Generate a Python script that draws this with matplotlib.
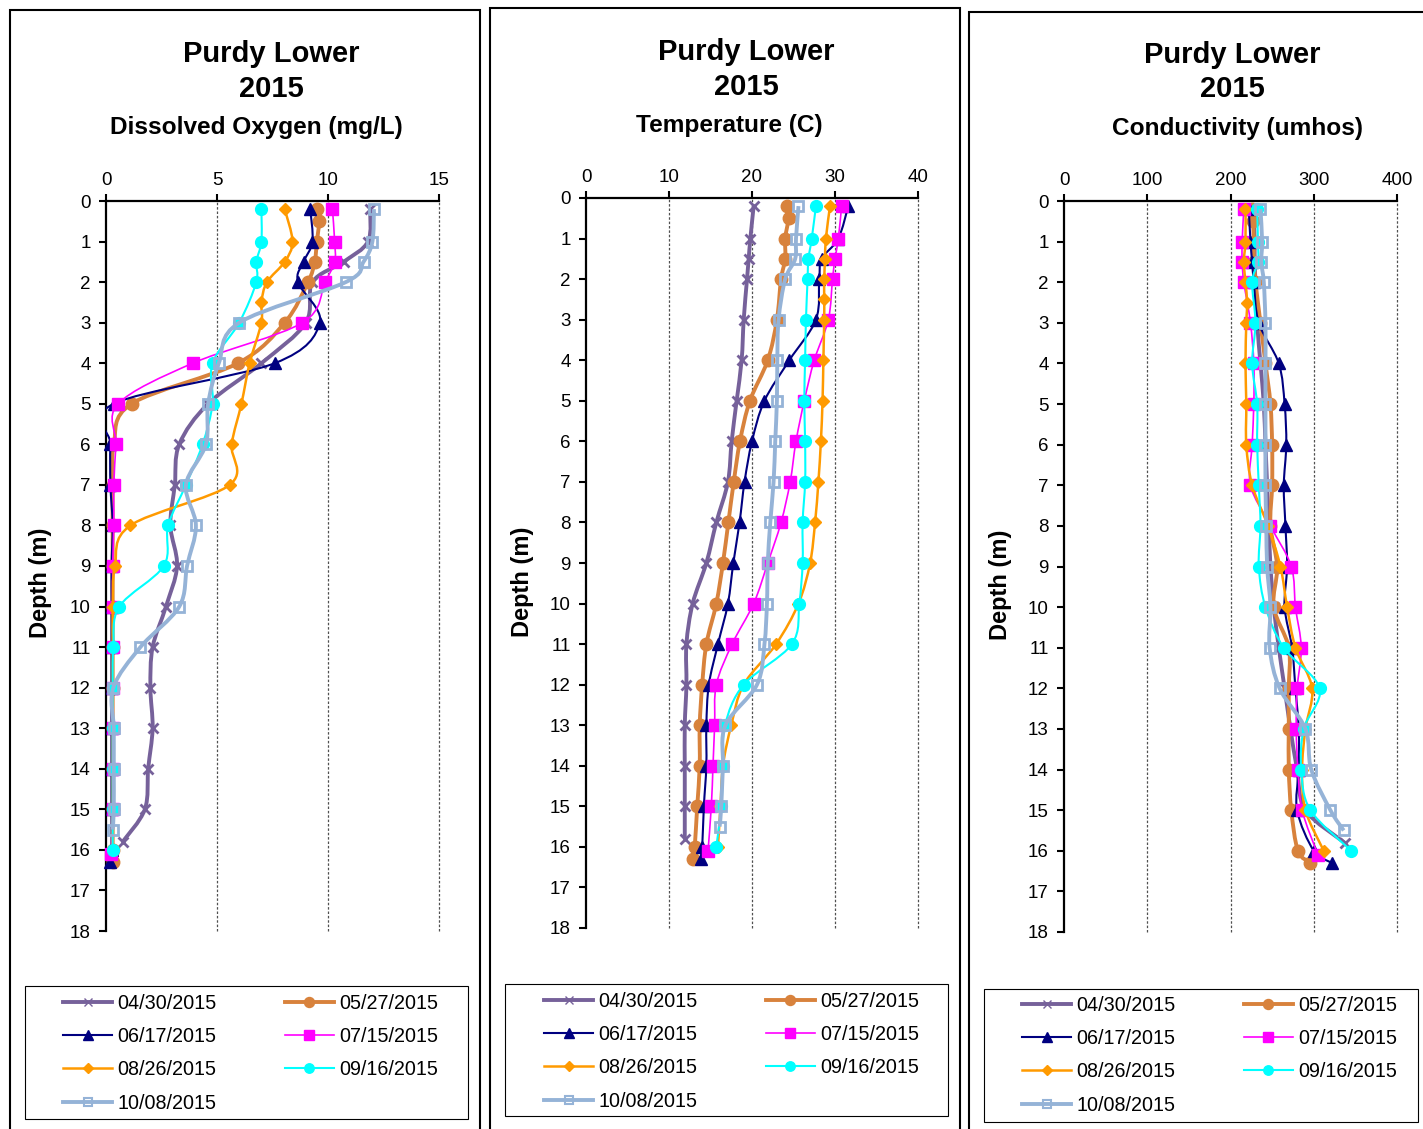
import numpy as np
import matplotlib
matplotlib.use('Agg')
import matplotlib.pyplot as plt
from matplotlib.path import Path
from matplotlib.patches import PathPatch, Rectangle
from matplotlib.lines import Line2D

plt.rcParams['font.family'] = ['Liberation Sans', 'DejaVu Sans']

## datas de coleta
datas = ['04/30/2015', '05/27/2015', '06/17/2015', '07/15/2015',
         '08/26/2015', '09/16/2015', '10/08/2015']

## profundidades (m) de cada coleta
prof_0430 = [0.2, 1, 1.5, 2, 3, 4, 5, 6, 7, 8, 9, 10, 11, 12, 13, 14, 15, 15.8]
prof_0527 = [0.2, 0.5, 1, 1.5, 2, 3, 4, 5, 6, 7, 8, 9, 10, 11, 12, 13, 14, 15, 16, 16.3]
prof_0617 = [0.2, 1, 1.5, 2, 3, 4, 5, 6, 7, 8, 9, 10, 11, 12, 13, 14, 15, 16, 16.3]
prof_0715 = [0.2, 1, 1.5, 2, 3, 4, 5, 6, 7, 8, 9, 10, 11, 12, 13, 14, 15, 16.1]
prof_0826 = [0.2, 1, 1.5, 2, 2.5, 3, 4, 5, 6, 7, 8, 9, 10, 11, 12, 13, 14, 15, 16]
prof_0916 = [0.2, 1, 1.5, 2, 3, 4, 5, 6, 7, 8, 9, 10, 11, 12, 13, 14, 15, 16]
prof_1008 = [0.2, 1, 1.5, 2, 3, 4, 5, 6, 7, 8, 9, 10, 11, 12, 13, 14, 15, 15.5]

## oxigenio dissolvido (mg/L)
od_0430 = [11.9, 11.8, 10.7, 9.3, 9.0, 7.0, 4.6, 3.3, 3.1, 2.9, 3.2, 2.7, 2.1, 2.0, 2.1, 1.9, 1.75, 0.75]
od_0527 = [9.5, 9.6, 9.5, 9.4, 9.1, 8.05, 5.94, 1.15, 0.35, 0.3, 0.3, 0.3, 0.3, 0.3, 0.3, 0.3, 0.3, 0.3, 0.3, 0.3]
od_0617 = [9.2, 9.3, 8.9, 8.65, 9.63, 7.6, 0.35, 0.2, 0.2, 0.3, 0.25, 0.25, 0.25, 0.25, 0.25, 0.25, 0.25, 0.25, 0.2]
od_0715 = [10.2, 10.3, 10.3, 9.86, 8.85, 3.9, 0.55, 0.45, 0.35, 0.35, 0.3, 0.3, 0.3, 0.3, 0.3, 0.3, 0.3, 0.23]
od_0826 = [8.05, 8.4, 8.05, 7.25, 7.0, 7.0, 6.47, 6.1, 5.66, 5.57, 1.1, 0.4, 0.3, 0.3, 0.3, 0.3, 0.3, 0.3, 0.3]
od_0916 = [7.0, 7.0, 6.77, 6.77, 6.0, 4.8, 4.8, 4.35, 3.6, 2.8, 2.6, 0.6, 0.33, 0.3, 0.3, 0.3, 0.3, 0.3]
od_1008 = [12.07, 12.0, 11.6, 10.8, 6.0, 5.08, 4.6, 4.5, 3.6, 4.05, 3.65, 3.3, 1.55, 0.33, 0.35, 0.35, 0.35, 0.3]

## temperatura (C)
temp_0430 = [20.2, 19.8, 19.6, 19.4, 19.0, 18.75, 18.15, 17.55, 17.1, 15.7, 14.5, 12.85, 12.1, 12.1, 11.9, 11.9, 11.9, 11.9]
temp_0527 = [24.25, 24.4, 24.0, 24.0, 23.5, 23.0, 21.9, 19.75, 18.55, 17.8, 17.15, 16.5, 15.7, 14.5, 14.0, 13.7, 13.7, 13.4, 13.1, 12.9]
temp_0617 = [31.6, 30.4, 28.4, 28.1, 27.7, 24.5, 21.5, 20.0, 19.1, 18.5, 17.75, 17.1, 15.9, 14.8, 14.5, 14.5, 14.2, 14.0, 13.8]
temp_0715 = [30.8, 30.4, 30.0, 29.7, 29.2, 27.5, 26.3, 25.3, 24.6, 23.5, 21.9, 20.2, 17.6, 15.7, 15.5, 15.3, 15.1, 14.7]
temp_0826 = [29.4, 28.9, 28.8, 28.7, 28.7, 28.7, 28.6, 28.5, 28.3, 28.0, 27.6, 27.0, 25.6, 22.9, 19.0, 17.5, 16.5, 16.2, 15.9]
temp_0916 = [27.7, 27.2, 26.8, 26.7, 26.5, 26.4, 26.3, 26.4, 26.4, 26.1, 26.1, 25.7, 24.8, 19.0, 16.75, 16.5, 16.3, 15.7]
temp_1008 = [25.6, 25.3, 25.2, 24.0, 23.2, 23.05, 23.0, 22.8, 22.6, 22.2, 21.9, 21.8, 21.5, 20.6, 16.8, 16.5, 16.3, 16.1]

## condutividade (umhos)
cond_0430 = [228, 229, 229, 230, 232, 236, 240, 242, 244, 246, 248, 252, 258, 265, 272, 280, 290, 337]
cond_0527 = [226, 227, 228, 228, 230, 236, 242, 248, 250, 250, 248, 256, 252, 270, 270, 270, 270, 273, 281, 296]
cond_0617 = [222, 224, 226, 228, 234, 258, 265, 267, 264, 266, 268, 265, 274, 278, 282, 282, 280, 300, 322]
cond_0715 = [216, 214, 214, 216, 224, 228, 228, 226, 224, 248, 273, 278, 285, 280, 279, 281, 286, 305]
cond_0826 = [218, 218, 216, 218, 220, 219, 218, 219, 219, 226, 245, 260, 268, 278, 298, 290, 286, 290, 312]
cond_0916 = [232, 233, 233, 226, 230, 226, 232, 232, 234, 236, 234, 242, 264, 307, 288, 285, 296, 345]
cond_1008 = [236, 238, 237, 240, 242, 242, 242, 242, 242, 243, 244, 248, 247, 259, 290, 297, 320, 336]

profundidades = [prof_0430, prof_0527, prof_0617, prof_0715, prof_0826, prof_0916, prof_1008]
oxigenio = [od_0430, od_0527, od_0617, od_0715, od_0826, od_0916, od_1008]
temperatura = [temp_0430, temp_0527, temp_0617, temp_0715, temp_0826, temp_0916, temp_1008]
condutividade = [cond_0430, cond_0527, cond_0617, cond_0715, cond_0826, cond_0916, cond_1008]

## estilos de cada serie
cores = ['#76619A', '#D8823C', '#000080', '#FF00FF', '#FF9A00', '#00FFFF', '#95B3D7']
marcadores = ['x', 'o', '^', 's', 'D', 'o', 's']
tam_marc = [7, 9, 9, 8.5, 6, 8.5, 7.5]
espessura = [2.8, 2.8, 1.5, 1.2, 1.8, 1.5, 2.8]

W, H = 1423, 1129


def fx(px):
    return px / W


def fy(py):
    return 1 - py / H


def curva_suave(xs, ys):
    ## linha suavizada tipo Excel (Catmull-Rom em bezier cubica)
    pts = np.column_stack([xs, ys]).astype(float)
    n = len(pts)
    verts = [pts[0]]
    codes = [Path.MOVETO]
    for i in range(n - 1):
        p0 = pts[i - 1] if i > 0 else pts[i]
        p1 = pts[i]
        p2 = pts[i + 1]
        p3 = pts[i + 2] if i + 2 < n else pts[i + 1]
        verts += [p1 + (p2 - p0) / 6, p2 - (p3 - p1) / 6, p2]
        codes += [Path.CURVE4] * 3
    return Path(verts, codes)


fig = plt.figure(figsize=(W / 100, H / 100), dpi=100)


def painel(ax_px, moldura_px, xmax, xpasso, valores, titulo_px, subtitulo, sub_px, ylab_px, leg_px, caixa_px):
    l, t, r, b = ax_px
    ax = fig.add_axes([fx(l), fy(b), (r - l) / W, (b - t) / H])

    for i in range(len(datas)):
        ax.add_patch(PathPatch(curva_suave(valores[i], profundidades[i]), facecolor='none',
                               edgecolor=cores[i], lw=espessura[i], zorder=2 + i))
        face = 'none' if i == 6 else cores[i]
        mew = 2 if marcadores[i] in ('x', 's') and i != 3 else 1
        ax.plot(valores[i], profundidades[i], linestyle='none', marker=marcadores[i],
                ms=tam_marc[i], mfc=face, mec=cores[i], mew=mew, zorder=2.5 + i, clip_on=False)

    ax.set_xlim(0, xmax)
    ax.set_ylim(18, 0)
    ax.set_xticks(np.arange(0, xmax + 1, xpasso))
    ax.set_yticks(range(0, 19))
    ax.xaxis.tick_top()
    ax.tick_params(axis='both', direction='out', length=5, width=1.5, labelsize=13.5, pad=4)
    ax.tick_params(axis='y', pad=6)
    for x in np.arange(xpasso, xmax + 1, xpasso):
        ax.axvline(x, color='#505050', lw=0.9, ls=(0, (2, 1.5)), zorder=1, clip_on=False)
    for lado in ['right', 'bottom']:
        ax.spines[lado].set_visible(False)
    for lado in ['top', 'left']:
        ax.spines[lado].set_linewidth(1.6)
    ax.patch.set_alpha(0)

    ## moldura do painel
    ml, mt, mr, mb = moldura_px
    fig.add_artist(Rectangle((fx(ml), fy(mb)), (mr - ml) / W, (mb - mt) / H, transform=fig.transFigure,
                             fill=False, ec='black', lw=1.5))

    ## titulos
    tx, y1, y2 = titulo_px
    fig.text(fx(tx), fy(y1), 'Purdy Lower', ha='center', va='baseline', fontsize=21, fontweight='bold')
    fig.text(fx(tx), fy(y2), '2015', ha='center', va='baseline', fontsize=21, fontweight='bold')
    fig.text(fx(sub_px[0]), fy(sub_px[1]), subtitulo, ha='center', va='baseline', fontsize=17.6,
             fontweight='bold')
    fig.text(fx(ylab_px[0]), fy(ylab_px[1]), 'Depth (m)', ha='center', va='center', rotation=90,
             fontsize=17, fontweight='bold')

    ## legenda em ordem de linhas
    alcas = []
    for i in range(len(datas)):
        face = 'none' if i == 6 else cores[i]
        alcas.append(Line2D([], [], color=cores[i], lw=espessura[i], marker=marcadores[i],
                            ms=tam_marc[i] * 0.8, mfc=face, mec=cores[i], mew=1.5 if i == 6 else 1))
    ordem = [0, 2, 4, 6, 1, 3, 5]
    ax.legend([alcas[k] for k in ordem], [datas[k] for k in ordem], loc='upper left',
              bbox_to_anchor=(fx(leg_px[0]), fy(leg_px[1])), bbox_transform=fig.transFigure,
              ncol=2, frameon=False, borderpad=0, borderaxespad=0, handlelength=2.49,
              handletextpad=0.27, columnspacing=3.45, labelspacing=0.72, fontsize=14.2)
    cl, ct, cr, cb = caixa_px
    fig.add_artist(Rectangle((fx(cl), fy(cb)), (cr - cl) / W, (cb - ct) / H, transform=fig.transFigure,
                             fill=False, ec='black', lw=0.8))
    return ax


painel((106, 201, 439, 931), (10, 10, 480, 1140), 15, 5, oxigenio, (271, 62, 97),
       'Dissolved Oxygen (mg/L)', (256, 134), (40, 583), (63, 994), (25, 986, 468, 1119))
painel((586, 198, 918, 928), (490, 8, 960, 1140), 40, 10, temperatura, (746, 60, 95),
       'Temperature (C)', (729, 132), (522, 582), (544, 992), (505, 984, 948, 1116))
painel((1064, 201, 1397, 932), (969, 12, 1440, 1140), 400, 100, condutividade, (1232, 63, 97),
       'Conductivity (umhos)', (1237, 135), (1000, 585), (1022, 996), (984, 989, 1418, 1122))

plt.savefig('out.png', dpi=100)
